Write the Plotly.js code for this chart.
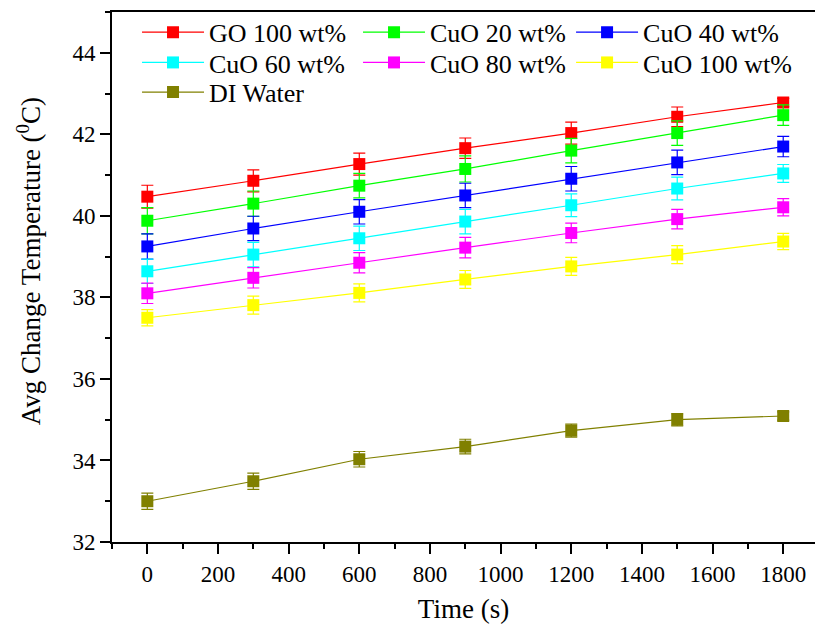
<!DOCTYPE html>
<html>
<head>
<meta charset="utf-8">
<script src="https://cdn.plot.ly/plotly-3.0.1.min.js"></script>
<style>html,body{margin:0;padding:0;background:#fff;}#chart{width:815px;height:628px;}</style>
</head>
<body>
<div id="chart"></div>
<script>
const time = [0, 300, 600, 900, 1200, 1500, 1800];

const seriesNames = ["GO 100 wt%", "CuO 20 wt%", "CuO 40 wt%", "CuO 60 wt%", "CuO 80 wt%", "CuO 100 wt%", "DI Water"];
const seriesColors = ["#FF0000", "#00FF00", "#0000FF", "#00FFFF", "#FF00FF", "#FFFF00", "#808000"];
// legend groups: rows 1-2 columns 1-2 share a legend per row; column 3 entries have their own legends
const legendGroup = ["legend", "legend", "legend3", "legend2", "legend2", "legend4", "legend5"];

const go100  = [40.47, 40.86, 41.27, 41.66, 42.03, 42.43, 42.78];
const cuo20  = [39.88, 40.30, 40.74, 41.15, 41.60, 42.03, 42.47];
const cuo40  = [39.25, 39.69, 40.10, 40.50, 40.91, 41.31, 41.70];
const cuo60  = [38.64, 39.05, 39.45, 39.86, 40.26, 40.67, 41.04];
const cuo80  = [38.10, 38.48, 38.85, 39.22, 39.58, 39.92, 40.21];
const cuo100 = [37.50, 37.81, 38.11, 38.44, 38.76, 39.05, 39.37];
const diWater = [33.00, 33.49, 34.03, 34.34, 34.73, 35.00, 35.09];

const errGo100  = [0.28, 0.27, 0.27, 0.25, 0.27, 0.24, 0.10];
const errCuo20  = [0.32, 0.31, 0.30, 0.32, 0.30, 0.30, 0.25];
const errCuo40  = [0.31, 0.30, 0.30, 0.30, 0.30, 0.30, 0.25];
const errCuo60  = [0.30, 0.30, 0.30, 0.30, 0.28, 0.28, 0.22];
const errCuo80  = [0.25, 0.25, 0.25, 0.25, 0.24, 0.24, 0.21];
const errCuo100 = [0.20, 0.22, 0.22, 0.22, 0.22, 0.22, 0.20];
const errDiWater = [0.20, 0.20, 0.19, 0.18, 0.16, 0.15, 0.10];

const xTickVals = [0, 200, 400, 600, 800, 1000, 1200, 1400, 1600, 1800];
const yTickVals = [32, 34, 36, 38, 40, 42, 44];

const allValues = [go100, cuo20, cuo40, cuo60, cuo80, cuo100, diWater];
const allErrors = [errGo100, errCuo20, errCuo40, errCuo60, errCuo80, errCuo100, errDiWater];

const serif = "'Liberation Serif', 'Times New Roman', serif";

const traces = allValues.map((vals, i) => ({
  type: 'scatter',
  mode: 'lines+markers',
  name: seriesNames[i],
  legend: legendGroup[i],
  x: time,
  y: vals,
  line: {color: seriesColors[i], width: 1.2},
  marker: {symbol: 'square', size: 12, color: seriesColors[i]},
  error_y: {type: 'data', array: allErrors[i], visible: true, color: seriesColors[i], thickness: 1.2, width: 6}
}));

function legendStyle(xPos, yPos, ew) {
  const s = {
    orientation: 'h',
    x: xPos, xanchor: 'left',
    y: yPos, yanchor: 'top',
    bgcolor: 'rgba(0,0,0,0)',
    font: {family: serif, size: 26, color: '#000'},
    itemwidth: 62,
    traceorder: 'normal'
  };
  if (ew) { s.entrywidth = ew; s.entrywidthmode = 'pixels'; }
  return s;
}

const col1 = 0.0356, col3 = 0.653;
const row1 = 1.006, row2 = 0.949, row3 = 0.893;

const layout = {
  width: 815,
  height: 628,
  margin: {l: 112, r: 0, t: 12, b: 86},
  paper_bgcolor: '#fff',
  plot_bgcolor: '#fff',
  showlegend: true,
  font: {family: serif, color: '#000'},
  legend: legendStyle(col1, row1, 144),
  legend2: legendStyle(col1, row2, 144),
  legend3: legendStyle(col3, row1, 0),
  legend4: legendStyle(col3, row2, 0),
  legend5: legendStyle(col1, row3, 0),
  xaxis: {
    range: [-100, 1890],
    tickvals: xTickVals,
    ticktext: xTickVals.map(String),
    ticks: 'outside', ticklen: 10, tickwidth: 2, tickcolor: '#000',
    minor: {dtick: 100, tick0: 0, ticks: 'outside', ticklen: 5, tickwidth: 2, tickcolor: '#000'},
    showline: true, linecolor: '#000', linewidth: 2, mirror: true,
    showgrid: false, zeroline: false,
    tickfont: {family: serif, size: 23, color: '#000'},
    title: {text: 'Time (s)', font: {family: serif, size: 27, color: '#000'}, standoff: 14}
  },
  yaxis: {
    range: [32, 45],
    tickvals: yTickVals,
    ticktext: yTickVals.map(String),
    ticks: 'outside', ticklen: 10, tickwidth: 2, tickcolor: '#000',
    minor: {dtick: 1, tick0: 32, ticks: 'outside', ticklen: 5, tickwidth: 2, tickcolor: '#000'},
    showline: true, linecolor: '#000', linewidth: 2,
    showgrid: false, zeroline: false,
    tickfont: {family: serif, size: 23, color: '#000'}
  },
  annotations: [{
    text: 'Avg Change Temperature (<sup>0</sup>C)',
    xref: 'paper', yref: 'paper',
    x: -0.118, y: 0.53,
    xanchor: 'center', yanchor: 'middle',
    textangle: -90,
    showarrow: false,
    font: {family: serif, size: 27, color: '#000'}
  }]
};

Plotly.newPlot('chart', traces, layout, {displayModeBar: false, staticPlot: true});
</script>
</body>
</html>
